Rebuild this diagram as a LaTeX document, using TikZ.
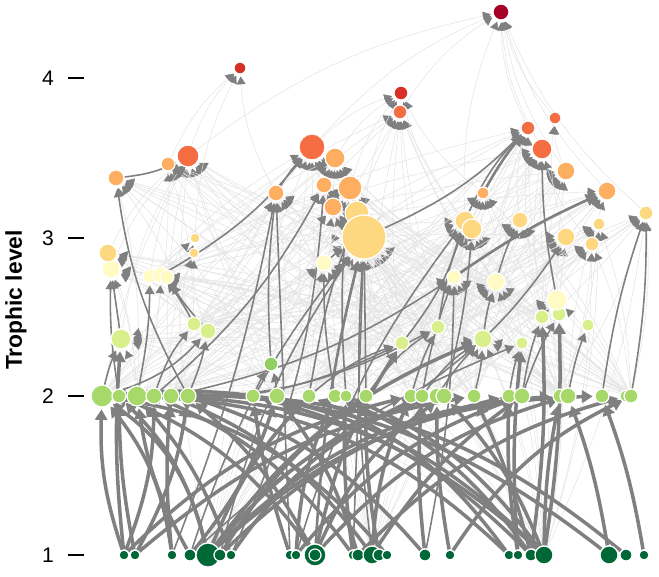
\documentclass[tikz,border=0pt]{standalone}
\usepackage{fontspec}
\setmainfont{Liberation Sans}
\usetikzlibrary{arrows.meta}
\definecolor{lvA}{HTML}{006837}
\definecolor{lvB}{HTML}{A6D96A}
\definecolor{lvC}{HTML}{91CF60}
\definecolor{lvD}{HTML}{D9EF8B}
\definecolor{lvE}{HTML}{FFFBC2}
\definecolor{lvF}{HTML}{FDD880}
\definecolor{lvG}{HTML}{FDAE61}
\definecolor{lvH}{HTML}{F46D43}
\definecolor{lvI}{HTML}{D73027}
\definecolor{lvJ}{HTML}{A50026}
\pgfdeclarelayer{edges}
\pgfsetlayers{edges,main}

\begin{document}
\begin{tikzpicture}[x=0.02cm,y=-0.02cm,
    sp/.style={circle,draw=white,line width=0.7pt,inner sep=0pt,minimum size=#1*0.04cm},
    light/.style={draw=gray!22,line width=0.3pt,shorten >=1pt,-{Triangle[length=4.5pt,width=5pt,color=gray]}},
    mid/.style={draw=gray,line width=0.9pt,shorten >=1pt,-{Triangle[length=5pt,width=5.5pt]}},
    heavy/.style={draw=gray,line width=2pt,shorten >=1pt,-{Triangle[length=6pt,width=7pt]}}]
\useasboundingbox (0,0) rectangle (659,576);

% axis
\node[font=\bfseries\fontsize{13}{15}\selectfont,rotate=90] (ylab) at (16,300) {Trophic level};
\node[font=\fontsize{12}{14}\selectfont] (tl4) at (48,78) {4};
\node[font=\fontsize{12}{14}\selectfont] (tl3) at (48,238) {3};
\node[font=\fontsize{12}{14}\selectfont] (tl2) at (48,396) {2};
\node[font=\fontsize{12}{14}\selectfont] (tl1) at (48,555) {1};
\draw[line width=0.6pt] (68,78) -- (84,78);
\draw[line width=0.6pt] (68,238) -- (84,238);
\draw[line width=0.6pt] (68,396) -- (84,396);
\draw[line width=0.6pt] (68,555) -- (84,555);

% level 1
\node[sp=5,fill=lvA] (p1) at (124,555) {};
\node[sp=5,fill=lvA] (p2) at (135,555) {};
\node[sp=5,fill=lvA] (p3) at (172,555) {};
\node[sp=6,fill=lvA] (p4) at (190,555) {};
\node[sp=12,fill=lvA] (p5) at (208,555) {};
\node[sp=6,fill=lvA] (p6) at (220,555) {};
\node[sp=5,fill=lvA] (p7) at (231,555) {};
\node[sp=5,fill=lvA] (p8) at (290,555) {};
\node[sp=5,fill=lvA] (p9) at (296,555) {};
\node[sp=11,fill=lvA] (p10) at (315,555) {};
\node[sp=6,fill=lvA] (p10b) at (315,555) {};
\node[sp=5,fill=lvA] (p11) at (353,555) {};
\node[sp=6,fill=lvA] (p12) at (358,555) {};
\node[sp=9,fill=lvA] (p13) at (372,555) {};
\node[sp=6,fill=lvA] (p14) at (379,555) {};
\node[sp=5,fill=lvA] (p15) at (387,555) {};
\node[sp=6,fill=lvA] (p16) at (425,555) {};
\node[sp=5,fill=lvA] (p17) at (450,555) {};
\node[sp=5,fill=lvA] (p18) at (509,555) {};
\node[sp=5,fill=lvA] (p19) at (518,555) {};
\node[sp=6,fill=lvA] (p20) at (531,555) {};
\node[sp=9,fill=lvA] (p21) at (544,555) {};
\node[sp=9,fill=lvA] (p22) at (609,555) {};
\node[sp=6,fill=lvA] (p23) at (626,555) {};
\node[sp=5,fill=lvA] (p24) at (644,555) {};

% level 2
\node[sp=11,fill=lvB] (h1) at (102,396) {};
\node[sp=7,fill=lvB] (h2) at (119,396) {};
\node[sp=10,fill=lvB] (h3) at (137,396) {};
\node[sp=8,fill=lvB] (h4) at (154,396) {};
\node[sp=8,fill=lvB] (h5) at (171,396) {};
\node[sp=8,fill=lvB] (h6) at (188,396) {};
\node[sp=7,fill=lvB] (h7) at (253,396) {};
\node[sp=8,fill=lvB] (h8) at (277,396) {};
\node[sp=7,fill=lvB] (h9) at (309,396) {};
\node[sp=7,fill=lvB] (h10) at (335,396) {};
\node[sp=6,fill=lvB] (h11) at (346,396) {};
\node[sp=7,fill=lvB] (h12) at (366,396) {};
\node[sp=7,fill=lvB] (h13) at (411,396) {};
\node[sp=7,fill=lvB] (h14) at (422,396) {};
\node[sp=8,fill=lvB] (h15) at (437,396) {};
\node[sp=8,fill=lvB] (h16) at (444,396) {};
\node[sp=7,fill=lvB] (h17) at (474,396) {};
\node[sp=7,fill=lvB] (h18) at (509,396) {};
\node[sp=8,fill=lvB] (h19) at (522,396) {};
\node[sp=7,fill=lvB] (h20) at (560,396) {};
\node[sp=8,fill=lvB] (h21) at (568,396) {};
\node[sp=7,fill=lvB] (h22) at (602,396) {};
\node[sp=6,fill=lvB] (h23) at (626,396) {};
\node[sp=7,fill=lvB] (h24) at (631,396) {};

% level 2.2 - 2.5
\node[sp=7,fill=lvC] (g0) at (271,364) {};
\node[sp=7,fill=lvD] (u1) at (542,317) {};
\node[sp=7,fill=lvD] (u2) at (559,314) {};
\node[sp=6,fill=lvD] (u3) at (588,325) {};
\node[sp=7,fill=lvD] (u4) at (194,324) {};
\node[sp=8,fill=lvD] (u5) at (208,331) {};
\node[sp=7,fill=lvD] (u6) at (438,327) {};
\node[sp=9,fill=lvD] (u7) at (483,339) {};
\node[sp=6,fill=lvD] (u8) at (522,343) {};
\node[sp=7,fill=lvD] (u9) at (402,343) {};
\node[sp=10,fill=lvD] (u10) at (121,339) {};

% level 2.8
\node[sp=9,fill=lvE] (y1) at (111,269) {};
\node[sp=7,fill=lvE] (y2) at (150,276) {};
\node[sp=8,fill=lvE] (y3) at (161,275) {};
\node[sp=7,fill=lvE] (y4) at (167,277) {};
\node[sp=8,fill=lvE] (y5) at (324,263) {};
\node[sp=7,fill=lvE] (y6) at (454,277) {};
\node[sp=9,fill=lvE] (y7) at (496,282) {};
\node[sp=10,fill=lvE] (y8) at (557,300) {};

% level 3
\node[sp=9,fill=lvF] (q12) at (108,253) {};
\node[sp=12,fill=lvF] (q1) at (357,213) {};
\node[sp=22,fill=lvF] (q2) at (364,237) {};
\node[sp=10,fill=lvF] (q3) at (465,221) {};
\node[sp=10,fill=lvF] (q4) at (472,229) {};
\node[sp=8,fill=lvF] (q5) at (520,220) {};
\node[sp=7,fill=lvF] (q6) at (646,213) {};
\node[sp=6,fill=lvF] (q7) at (599,224) {};
\node[sp=9,fill=lvF] (q8) at (566,237) {};
\node[sp=7,fill=lvF] (q9) at (592,244) {};
\node[sp=5,fill=lvF] (q10) at (195,238) {};
\node[sp=5,fill=lvF] (q11) at (194,253) {};

% level 3.3
\node[sp=10,fill=lvG] (r1) at (335,158) {};
\node[sp=7,fill=lvG] (r2) at (168,164) {};
\node[sp=8,fill=lvG] (r3) at (116,178) {};
\node[sp=9,fill=lvG] (r4) at (566,171) {};
\node[sp=8,fill=lvG] (r5) at (324,185) {};
\node[sp=12,fill=lvG] (r6) at (350,188) {};
\node[sp=8,fill=lvG] (r7) at (276,193) {};
\node[sp=6,fill=lvG] (r8) at (483,193) {};
\node[sp=9,fill=lvG] (r9) at (607,191) {};
\node[sp=9,fill=lvG] (r10) at (333,207) {};

% level 3.6 and above
\node[sp=7,fill=lvH] (s1) at (400,112) {};
\node[sp=6,fill=lvH] (s2) at (555,118) {};
\node[sp=7,fill=lvH] (s3) at (528,128) {};
\node[sp=13,fill=lvH] (s4) at (312,147) {};
\node[sp=10,fill=lvH] (s5) at (542,149) {};
\node[sp=11,fill=lvH] (s6) at (188,156) {};
\node[sp=6,fill=lvI] (t2) at (240,68) {};
\node[sp=7,fill=lvI] (t3) at (401,93) {};
\node[sp=8,fill=lvJ] (t1) at (501,12) {};

\begin{pgfonlayer}{edges}
% weak links
\foreach \a in {s1,s3,s4,s5,s6,r1,r4,r6,r9,q2,q3,q8}
  \foreach \b in {h1,h5,h9,h13,h17,h21,u1,u6,y2,y7,p5,p13}
    \draw[light] (\b) to[bend left=8] (\a);
\foreach \a in {r2,r3,r5,r7,r8,r10,q1,q4,q5,q6,q7,q9,q12,y1,y3,y5,y6,y7,y8,u7,u10}
  \foreach \b in {h3,h8,h12,h16,h20,h24,u4,u9,p21}
    \draw[light] (\b) to[bend right=8] (\a);
\foreach \a/\b in {t1/s1,t1/s3,t1/s5,t1/r4,t1/r9,t1/s4,t1/q3,t1/s6,t1/q6,t1/s2,
    t2/s6,t2/r7,t2/r2,t2/q10,t3/r6,t3/s4,t3/q3,t3/r8,t3/r1,t3/q2,
    s2/r4,s2/q8,s3/q5,s5/q9,s6/y1,s6/q12,s6/u10,q10/y4,q11/u5,q10/h6,q11/h5}
  \draw[light] (\b) to[bend left=12] (\a);

% medium links
\foreach \s/\t/\b in {h1/u10/5,h2/y1/5,h3/y2/-5,h4/u4/10,h6/u5/-5,h7/g0/5,h8/g0/-5,
    h9/u9/10,h10/y5/5,h12/q2/0,h13/u6/5,h15/u7/5,h17/u7/-5,h18/u8/5,h19/u1/5,
    h20/u2/0,h21/u3/5,h22/q6/5,h24/q6/-5,p4/q2/10,p8/r7/0,p11/q2/0,p13/q2/5,
    p16/y6/-5,u7/y7/5,u6/q3/5,h16/q4/-5,h11/r6/5,h14/y6/5,u10/y1/0,u4/y3/-5,
    u5/y4/5,g0/r7/5,y5/q2/5,h6/r3/10,p3/r7/-5,p7/r5/-10,h9/q1/5,u9/q3/-10,
    h13/q8/-10,y7/q5/5,h19/u2/5,h12/u6/10,h14/u7/10,y3/s4/-10,r7/s4/5,q3/s3/10,
    y8/s5/5,h1/u5/-15,h2/u9/-15,h3/u6/-15,h5/y6/-10,p4/u8/10,p9/q3/10,h4/r5/-10,
    p6/q2/10,q2/s3/-10,r3/s6/-10}
  \draw[mid] (\s) to[bend left=\b] (\t);

% strong links
\foreach \s/\t/\b in {p1/h1/10,p1/h4/-10,p1/h13/15,p2/h2/5,p2/h6/-10,p2/h17/15,
    p3/h1/-15,p3/h5/5,p4/h3/10,p4/h8/-10,p5/h1/-20,p5/h2/-15,p5/h9/10,p5/h15/15,
    p5/h20/20,p5/h22/20,p6/h12/10,p6/h18/15,p7/h3/-10,p7/h14/15,p8/h7/5,p9/h10/10,
    p9/h19/15,p10/h2/-15,p10/h6/-10,p10/h16/15,p10/h21/15,p11/h4/-15,p11/h11/5,
    p12/h8/-10,p12/h23/15,p13/h5/-15,p13/h13/10,p13/h19/10,p14/h12/5,p15/h1/-20,
    p16/h6/-15,p16/h14/5,p17/h15/5,p17/h24/15,p18/h3/-20,p18/h9/-15,p19/h18/5,
    p20/h7/-15,p20/h10/-15,p20/h17/-5,p21/h1/-25,p21/h4/-20,p21/h11/-15,
    p21/h16/-10,p21/h20/5,p22/h2/-20,p22/h21/-5,p23/h5/-20,p24/h22/-5,p1/u10/5,
    p20/u1/-5,p21/u2/-5,p5/u7/15,p10/u9/10,p19/u8/5}
  \draw[heavy] (\s) to[bend left=\b] (\t);
\draw[heavy,line width=1.5pt] (y6) to[bend left=5] (r9);
\draw[heavy,line width=1.5pt] (r8) to[bend left=5] (s3);
\draw[heavy,line width=1.5pt] (p10) to[bend left=5] (q2);
\end{pgfonlayer}

\end{tikzpicture}
\end{document}
